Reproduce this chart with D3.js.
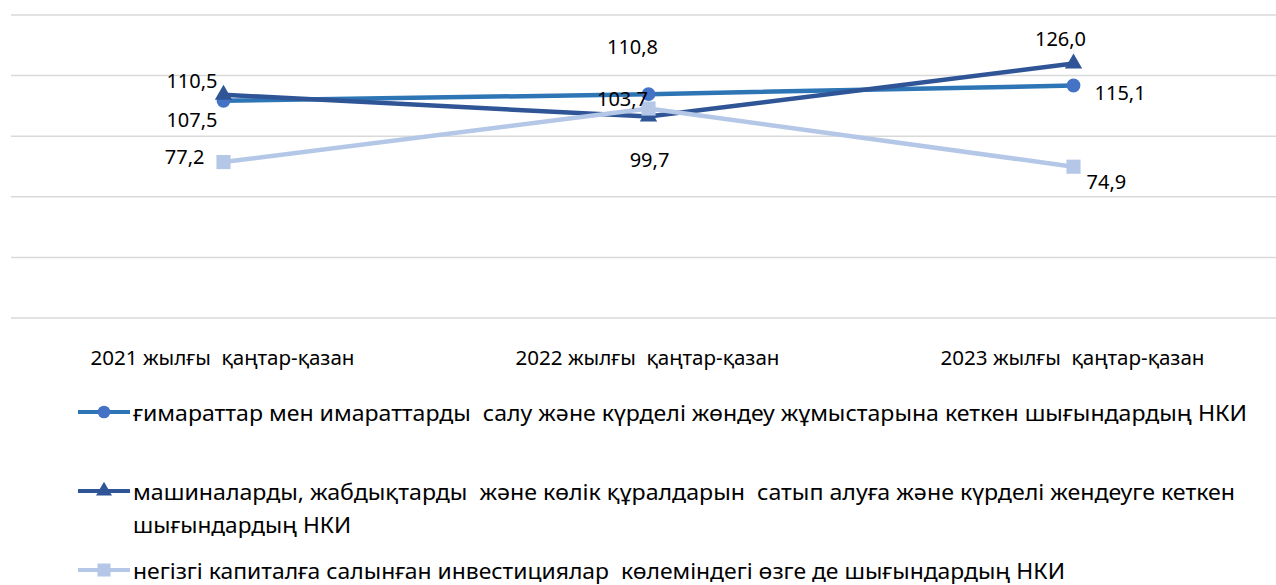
<!DOCTYPE html>
<html>
<head>
<meta charset="utf-8">
<script src="https://cdn.jsdelivr.net/npm/d3@7"></script>
<style>
  html, body { margin: 0; padding: 0; background: #fff; }
  svg { display: block; font-family: "Noto Sans", sans-serif; }
</style>
</head>
<body>
<div id="chart"></div>
<script>
// chart data
const categories = ['2021 жылғы  қаңтар-қазан', '2022 жылғы  қаңтар-қазан', '2023 жылғы  қаңтар-қазан'];
const seriesNames = [
  'ғимараттар мен имараттарды  салу және күрделі жөндеу жұмыстарына кеткен шығындардың НКИ',
  'машиналарды, жабдықтарды  және көлік құралдарын  сатып алуға және күрделі жендеуге кеткен шығындардың НКИ',
  'негізгі капиталға салынған инвестициялар  көлеміндегі өзге де шығындардың НКИ'
];
const buildingsValues = [107.5, 110.8, 115.1];
const machineryValues = [110.5, 99.7, 126.0];
const otherValues = [77.2, 103.7, 74.9];
const yTicks = [0, 30, 60, 90, 120, 150];

const width = 1276, height = 585;

const svg = d3.select('#chart').append('svg')
  .attr('width', width)
  .attr('height', height);

const x = d3.scaleBand().domain(categories).range([11, 1286]);
const y = d3.scaleLinear().domain([0, 150]).range([318, 15]);
const cx = d => x(d) + x.bandwidth() / 2;

// gridlines
svg.append('g')
  .selectAll('line')
  .data(yTicks)
  .join('line')
  .attr('x1', 11)
  .attr('x2', width)
  .attr('y1', d => y(d))
  .attr('y2', d => y(d))
  .attr('stroke', '#d9d9d9')
  .attr('stroke-width', 1.5);

// category labels
svg.append('g')
  .selectAll('text')
  .data(categories)
  .join('text')
  .attr('x', d => cx(d) - 1)
  .attr('y', 365)
  .attr('text-anchor', 'middle')
  .attr('font-size', 20)
  .attr('textLength', 264)
  .attr('lengthAdjust', 'spacingAndGlyphs')
  .attr('xml:space', 'preserve')
  .attr('fill', '#000')
  .text(d => d);

const series = [
  { name: seriesNames[0], values: buildingsValues, line: '#2e75b6', marker: '#4472c4', shape: d3.symbolCircle, size: 150 },
  { name: seriesNames[1], values: machineryValues, line: '#2f5597', marker: '#2f5597', shape: d3.symbolTriangle, size: 130 },
  { name: seriesNames[2], values: otherValues, line: '#b4c7e7', marker: '#b4c7e7', shape: d3.symbolSquare, size: 200 }
];

// label placement per point: [dx, dy, anchor]
const labelPlacement = [
  [[-6, 26, 'end'], [-16, -40, 'middle'], [21, 14.5, 'start']],
  [[-6, -7, 'end'], [1, 50, 'middle'], [-13, -17.5, 'middle']],
  [[-19, 2, 'end'], [-26, -2.5, 'middle'], [13, 22, 'start']]
];

const line = d3.line()
  .x((d, i) => cx(categories[i]))
  .y(d => y(d));

series.forEach(s => {
  svg.append('path')
    .datum(s.values)
    .attr('d', line)
    .attr('fill', 'none')
    .attr('stroke', s.line)
    .attr('stroke-width', 4.5)
    .attr('stroke-linejoin', 'round');
});

series.forEach(s => {
  svg.append('g')
    .selectAll('path')
    .data(s.values)
    .join('path')
    .attr('transform', (d, i) => `translate(${cx(categories[i])},${y(d)})`)
    .attr('d', d3.symbol().type(s.shape).size(s.size))
    .attr('fill', s.marker);
});

// data labels
const fmt = v => v.toFixed(1).replace('.', ',');
series.forEach((s, si) => {
  svg.append('g')
    .selectAll('text')
    .data(s.values)
    .join('text')
    .attr('x', (d, i) => cx(categories[i]) + labelPlacement[si][i][0])
    .attr('y', (d, i) => y(d) + labelPlacement[si][i][1])
    .attr('text-anchor', (d, i) => labelPlacement[si][i][2])
    .attr('font-size', 20)
    .attr('fill', '#000')
    .text(d => fmt(d));
});

// legend
const legendRows = [
  { y: 412, lines: [seriesNames[0]], widths: [1114] },
  { y: 491, lines: ['машиналарды, жабдықтарды  және көлік құралдарын  сатып алуға және күрделі жендеуге кеткен', 'шығындардың НКИ'], widths: [1102, 218] },
  { y: 570, lines: [seriesNames[2]], widths: [932] }
];

legendRows.forEach((row, i) => {
  const s = series[i];
  const g = svg.append('g');
  g.append('line')
    .attr('x1', 78).attr('x2', 130)
    .attr('y1', row.y).attr('y2', row.y)
    .attr('stroke', s.line)
    .attr('stroke-width', 4);
  g.append('path')
    .attr('transform', `translate(104,${row.y})`)
    .attr('d', d3.symbol().type(s.shape).size(s.size * 0.85))
    .attr('fill', s.marker);
  g.selectAll('text')
    .data(row.lines)
    .join('text')
    .attr('x', 133)
    .attr('y', (d, j) => row.y + 9 + j * 33)
    .attr('font-size', 21)
    .attr('textLength', (d, j) => row.widths[j])
    .attr('lengthAdjust', 'spacingAndGlyphs')
    .attr('fill', '#000')
    .attr('xml:space', 'preserve')
    .text(d => d);
});
</script>
</body>
</html>
